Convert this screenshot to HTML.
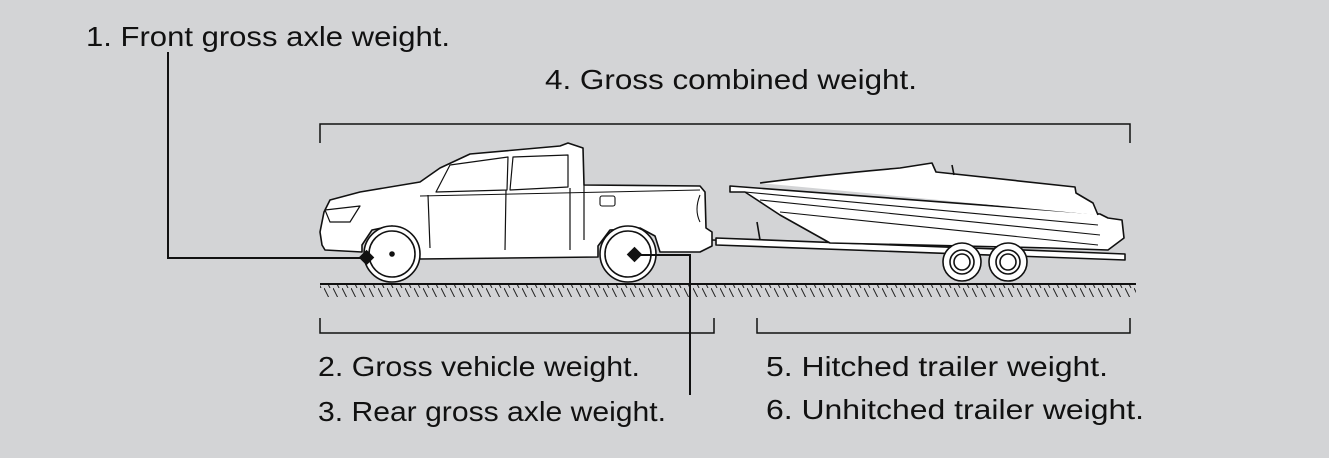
<!DOCTYPE html>
<html><head><meta charset="utf-8"><style>
html,body{margin:0;padding:0;background:#d3d4d6;}
svg{display:block}
text{font-family:"Liberation Sans",sans-serif;font-size:28px;fill:#111;}
</style></head><body>
<svg width="1329" height="458" viewBox="0 0 1329 458" xmlns="http://www.w3.org/2000/svg">
<defs>
<pattern id="h" width="9" height="12" patternUnits="userSpaceOnUse">
<line x1="0" y1="0" x2="6" y2="12" stroke="#222" stroke-width="1"/>
</pattern>
</defs>
<rect width="1329" height="458" fill="#d3d4d6"/>
<text x="86" y="46" textLength="364" lengthAdjust="spacingAndGlyphs">1. Front gross axle weight.</text>
<text x="545" y="89" textLength="372" lengthAdjust="spacingAndGlyphs">4. Gross combined weight.</text>
<text x="318" y="376" textLength="322" lengthAdjust="spacingAndGlyphs">2. Gross vehicle weight.</text>
<text x="318" y="421" textLength="348" lengthAdjust="spacingAndGlyphs">3. Rear gross axle weight.</text>
<text x="766" y="376" textLength="342" lengthAdjust="spacingAndGlyphs">5. Hitched trailer weight.</text>
<text x="766" y="419" textLength="378" lengthAdjust="spacingAndGlyphs">6. Unhitched trailer weight.</text>
<g stroke="#111" fill="none" stroke-width="1.5">
<path d="M320 143V124H1130V143"/>
<path d="M320 318V333H714V318"/>
<path d="M757 318V333H1130V318"/>
<rect x="320" y="285" width="816" height="12" fill="url(#h)" stroke="none"/>
<line x1="320" y1="284" x2="1136" y2="284" stroke-width="2"/>
</g>
<g stroke="#111" stroke-width="1.6" fill="#fff" stroke-linejoin="round">
<path d="M322 245 L320 232 L324 212 L330 200 L360 192 L420 182 L440 168 L470 154 L560 146 L568 143 L583 148 L584 185 L700 186 L705 192 L706 228 L712 232 L712 246 L700 252 L660 252 L655 236 L640 228 L610 230 L598 246 L598 257 L420 259 L418 248 L408 232 L392 226 L372 230 L362 245 L362 252 L325 250 Z"/>
<path d="M450 165 L508 157 L507 190 L436 192 Z" fill="none" stroke-width="1.2"/>
<path d="M513 157 L568 155 L568 187 L510 190 Z" fill="none" stroke-width="1.2"/>
<path d="M428 195 L430 248 M506 190 L505 250 M570 188 L570 250 M584 185 L584 240" fill="none" stroke-width="1.2"/>
<path d="M325 210 L360 206 L350 222 L330 222 Z" fill="none" stroke-width="1.2"/>
<path d="M420 196 L700 190" fill="none" stroke-width="1"/>
<rect x="600" y="196" width="15" height="10" rx="2" fill="none" stroke-width="1.1"/>
<path d="M700 195 Q694 210 700 222" fill="none" stroke-width="1.1"/>
<circle cx="392" cy="254" r="28"/>
<circle cx="392" cy="254" r="23"/>
<circle cx="392" cy="254" r="2" fill="#111"/>
<circle cx="628" cy="254" r="28"/>
<circle cx="628" cy="254" r="23"/>
<path d="M712 240 L745 241" fill="none"/>
</g>
<g stroke="#111" stroke-width="1.6" fill="#fff" stroke-linejoin="round">
<path d="M716 238 L1125 254 L1125 260 L716 245 Z"/>
<path d="M757 222 L760 240" fill="none"/>
<path d="M730 186 L1100 214 L1108 218 L1122 220 L1124 238 L1108 250 L1050 248 L830 243 L780 215 L745 192 L730 192 Z"/>
<path d="M760 183 Q820 175 900 168 L932 163 L936 172 L1075 187 L1076 193 L1093 203 L1098 215" />
<path d="M745 192 L1098 225 M760 200 L1100 235 M780 212 L1098 245" fill="none" stroke-width="1.1"/>
<path d="M952 165 L954 175" fill="none"/>
<circle cx="962" cy="262" r="19"/>
<circle cx="962" cy="262" r="12"/>
<circle cx="962" cy="262" r="8"/>
<circle cx="1008" cy="262" r="19"/>
<circle cx="1008" cy="262" r="12"/>
<circle cx="1008" cy="262" r="8"/>
</g>
<g stroke="#111" stroke-width="2" fill="none">
<path d="M168 52V258H367"/>
<path d="M635 255H690V395"/>
</g>
<rect x="361" y="252" width="11" height="11" fill="#111" transform="rotate(45 366.5 257.5)"/>
<rect x="629" y="249" width="11" height="11" fill="#111" transform="rotate(45 634.5 254.5)"/>
</svg>
</body></html>
